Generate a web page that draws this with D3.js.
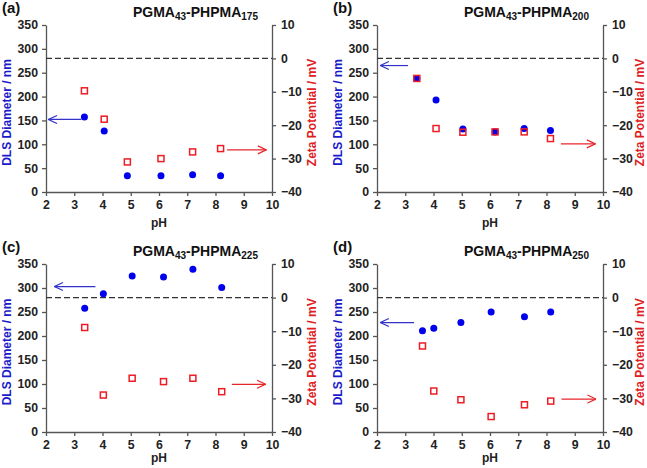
<!DOCTYPE html>
<html><head><meta charset="utf-8">
<script src="https://cdn.jsdelivr.net/npm/d3@7"></script>
<style>
body{margin:0;background:#fff;}
svg{display:block;font-family:"Liberation Sans",Arial,sans-serif;}
</style></head>
<body>
<svg id="c" width="647" height="468"></svg>
<script>
// ---- data ----
const panelLabels = ["(a)", "(b)", "(c)", "(d)"];
const titleSubs = ["175", "200", "225", "250"];
const xTicks = [2, 3, 4, 5, 6, 7, 8, 9, 10];
const diaTicks = [0, 50, 100, 150, 200, 250, 300, 350];
const zetaTicks = [-40, -30, -20, -10, 0, 10];

const phA = [3.36, 4.06, 4.88, 6.07, 7.19, 8.18];
const diaA = [157, 128, 34, 34, 36, 34];
const zetaA = [-9.7, -18.2, -31, -30, -28, -27];

const phB = [3.41, 4.09, 5.04, 6.18, 7.21, 8.14];
const diaB = [238, 193, 132, 126, 133, 129];
const zetaB = [-6, -21, -22.1, -22, -22, -24];

const phC = [3.37, 4.03, 5.05, 6.16, 7.20, 8.22];
const diaC = [258, 288, 325, 323, 339, 301];
const zetaC = [-8.9, -29, -24, -25, -24, -28];

const phD = [3.61, 4.01, 4.97, 6.04, 7.22, 8.15];
const diaD = [211, 216, 228, 250, 240, 250];
const zetaD = [-14.4, -27.8, -30.4, -35.4, -31.9, -30.8];

// arrows: [pH from, pH to, value]
const leftArrows = [[3.25, 2.09, 152], [3.1, 2.12, 265], [3.75, 2.3, 303], [3.31, 2.12, 228]];
const rightArrows = [[8.41, 9.8, -27.4], [8.51, 9.73, -25.6], [8.58, 9.77, -25.8], [8.53, 9.75, -30.2]];

const phs = [phA, phB, phC, phD];
const dias = [diaA, diaB, diaC, diaD];
const zetas = [zetaA, zetaB, zetaC, zetaD];

// ---- layout ----
const svg = d3.select("#c");
const boxes = [
  {x0: 46, x1: 272, y0: 25, y1: 192, ph: 35},
  {x0: 377, x1: 603, y0: 25, y1: 192, ph: 35},
  {x0: 46, x1: 272, y0: 264, y1: 432, ph: 30},
  {x0: 377, x1: 603, y0: 264, y1: 432, ph: 30}
];
const axisCol = "#555";
const blue = "#0000ee", red = "#ee1c24";
const arrowBlue = "#3333cc", arrowRed = "#e8262a";

const defs = svg.append("defs");
function marker(id, col) {
  defs.append("marker").attr("id", id).attr("viewBox", "0 0 10 10")
    .attr("refX", 9.5).attr("refY", 5).attr("markerWidth", 10).attr("markerHeight", 10)
    .attr("markerUnits", "userSpaceOnUse").attr("orient", "auto")
    .append("path").attr("d", "M1,1 L9.5,5 L1,9").attr("fill", "none")
    .attr("stroke", col).attr("stroke-width", 1.2);
}
marker("ab", arrowBlue);
marker("ar", arrowRed);

boxes.forEach((b, i) => {
  const x = d3.scaleLinear().domain([2, 10]).range([b.x0, b.x1]);
  const yL = d3.scaleLinear().domain([0, 350]).range([b.y1, b.y0]);
  const yR = d3.scaleLinear().domain([-40, 10]).range([b.y1, b.y0]);
  const g = svg.append("g");

  const styleAxis = sel => {
    sel.selectAll("path,line").attr("stroke", axisCol).attr("stroke-width", 1.3);
    sel.selectAll("text").attr("fill", "#222").attr("font-weight", "bold").attr("font-size", 12.3)
      .attr("font-family", "Liberation Sans, Arial, sans-serif");
  };
  g.append("g").attr("transform", `translate(0,${b.y1})`)
    .call(d3.axisBottom(x).tickValues(xTicks).tickSize(4).tickSizeOuter(0).tickPadding(4))
    .call(styleAxis);
  g.append("g").attr("transform", `translate(${b.x0},0)`)
    .call(d3.axisLeft(yL).tickValues(diaTicks).tickSize(4).tickSizeOuter(0).tickPadding(4))
    .call(styleAxis);
  g.append("g").attr("transform", `translate(${b.x1},0)`)
    .call(d3.axisRight(yR).tickValues(zetaTicks).tickSize(4).tickSizeOuter(0).tickPadding(5))
    .call(styleAxis);

  // dashed zero line
  g.append("line").attr("x1", b.x0).attr("x2", b.x1).attr("y1", yR(0)).attr("y2", yR(0))
    .attr("stroke", "#333").attr("stroke-width", 1.3).attr("stroke-dasharray", "6,3");

  const ph = phs[i];
  g.selectAll("circle.d").data(ph).enter().append("circle")
    .attr("cx", d => x(d)).attr("cy", (d, j) => yL(dias[i][j])).attr("r", 3.5).attr("fill", blue);
  g.selectAll("rect.z").data(ph).enter().append("rect")
    .attr("x", d => x(d) - 3).attr("y", (d, j) => yR(zetas[i][j]) - 3)
    .attr("width", 6).attr("height", 6).attr("fill", "none").attr("stroke", red).attr("stroke-width", 1.5);

  const la = leftArrows[i], ra = rightArrows[i];
  g.append("line").attr("x1", x(la[0])).attr("x2", x(la[1])).attr("y1", yL(la[2])).attr("y2", yL(la[2]))
    .attr("stroke", arrowBlue).attr("stroke-width", 1.2).attr("marker-end", "url(#ab)");
  g.append("line").attr("x1", x(ra[0])).attr("x2", x(ra[1])).attr("y1", yR(ra[2])).attr("y2", yR(ra[2]))
    .attr("stroke", arrowRed).attr("stroke-width", 1.2).attr("marker-end", "url(#ar)");

  // axis titles
  const cy = (b.y0 + b.y1) / 2 + 4;
  g.append("text").attr("transform", `translate(${b.x0 - 39},${cy}) rotate(-90)`)
    .attr("text-anchor", "middle").attr("dominant-baseline", "central")
    .attr("font-weight", "bold").attr("font-size", 12).attr("fill", "#1a1acc").text("DLS Diameter / nm");
  g.append("text").attr("transform", `translate(${Math.min(b.x1 + 40, 640)},${cy}) rotate(-90)`)
    .attr("text-anchor", "middle").attr("dominant-baseline", "central")
    .attr("font-weight", "bold").attr("font-size", 12).attr("fill", "#e02020").text("Zeta Potential / mV");
  g.append("text").attr("x", (b.x0 + b.x1) / 2).attr("y", b.y1 + b.ph).attr("text-anchor", "middle")
    .attr("font-weight", "bold").attr("font-size", 12).attr("fill", "#222").text("pH");

  // panel label
  g.append("text").attr("x", b.x0 - 44).attr("y", b.y0 - 12).attr("font-weight", "bold")
    .attr("font-size", 15).attr("fill", "#111").text(panelLabels[i]);

  // title
  const t = g.append("text").attr("x", b.x1 - 14).attr("y", b.y0 - 8).attr("text-anchor", "end")
    .attr("font-weight", "bold").attr("font-size", 14).attr("fill", "#111");
  t.append("tspan").text("PGMA");
  t.append("tspan").attr("font-size", 10).attr("dy", 3).text("43");
  t.append("tspan").attr("dy", -3).text("-PHPMA");
  t.append("tspan").attr("font-size", 10).attr("dy", 3).text(titleSubs[i]);
});
</script>
</body></html>
